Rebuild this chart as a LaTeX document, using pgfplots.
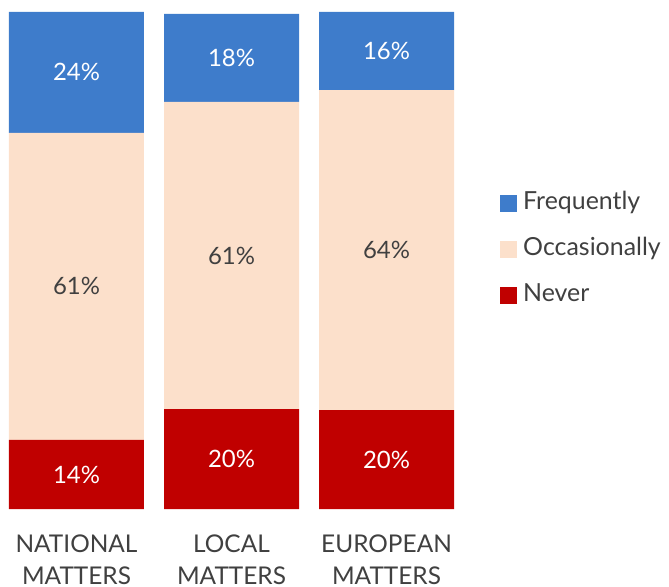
\documentclass[border=0pt]{standalone}
\usepackage{pgfplots}
\pgfplotsset{compat=1.18}
\usepackage{pgfplotstable}
\usepackage{fontspec}
\setmainfont{Lato}
\usetikzlibrary{calc}

\definecolor{freqblue}{HTML}{3E7CCB}
\definecolor{occpeach}{HTML}{FCE0CB}
\definecolor{neverred}{HTML}{C00000}
\definecolor{txtgrey}{HTML}{404040}

% x = category index, y = share, lab = printed label
\pgfplotstableread{
x y lab
0 13.9 14
1 20.1 20
2 19.9 20
}\never
\pgfplotstableread{
x y lab
0 61.8 61
1 61.8 61
2 64.4 64
}\occasionally
\pgfplotstableread{
x y lab
0 24.3 24
1 17.7 18
2 15.7 16
}\frequently

\begin{document}
\begin{tikzpicture}
  \begin{axis}[
      ybar stacked,
      scale only axis,
      width=463bp, height=497bp,
      bar width=135bp,
      xmin=-0.4935, xmax=2.4935,
      ymin=0, ymax=100,
      enlargelimits=false,
      hide y axis,
      axis x line*=bottom,
      x axis line style={draw=none},
      xtick={0,1,2},
      xtick style={draw=none},
      xticklabels={{NATIONAL\\MATTERS},{LOCAL\\MATTERS},{EUROPEAN\\MATTERS}},
      xticklabel style={align=center, text=txtgrey,
        font=\fontsize{24.5}{32}\selectfont, inner sep=0pt, yshift=-26bp},
      point meta=explicit,
      nodes near coords={\pgfmathprintnumber[assume math mode=true]{\pgfplotspointmeta}\%},
      every node near coord/.append style={anchor=center,
        font=\fontsize{24}{28}\selectfont},
      legend style={at={(1,0.523)}, anchor=west, xshift=37bp,
        draw=none, fill=none, inner sep=0pt,
        font=\fontsize{25}{28}\selectfont, text=txtgrey,
        row sep=23bp,
        nodes={inner sep=0pt, text height=18bp, text depth=5bp},
        /tikz/every odd column/.append style={column sep=6bp}},
      legend cell align=left,
      reverse legend,
      legend image code/.code={
        \fill[#1] (0bp,-8.5bp) rectangle (17bp,8.5bp);},
    ]
    \addplot[fill=neverred, draw=none,
      every node near coord/.append style={text=white}]
      table[x=x, y=y, meta=lab] {\never};
    \addplot[fill=occpeach, draw=none,
      every node near coord/.append style={text=txtgrey}]
      table[x=x, y=y, meta=lab] {\occasionally};
    \addplot[fill=freqblue, draw=none,
      every node near coord/.append style={text=white}]
      table[x=x, y=y, meta=lab] {\frequently};
    \legend{Never,Occasionally,Frequently}
    \coordinate (sw) at (rel axis cs:0,0);
    \coordinate (ne) at (rel axis cs:1,1);
  \end{axis}
  \pgfresetboundingbox
  \path ($(sw)+(0,-78bp)$) rectangle ($(ne)+(206bp,12bp)$);
\end{tikzpicture}
\end{document}
